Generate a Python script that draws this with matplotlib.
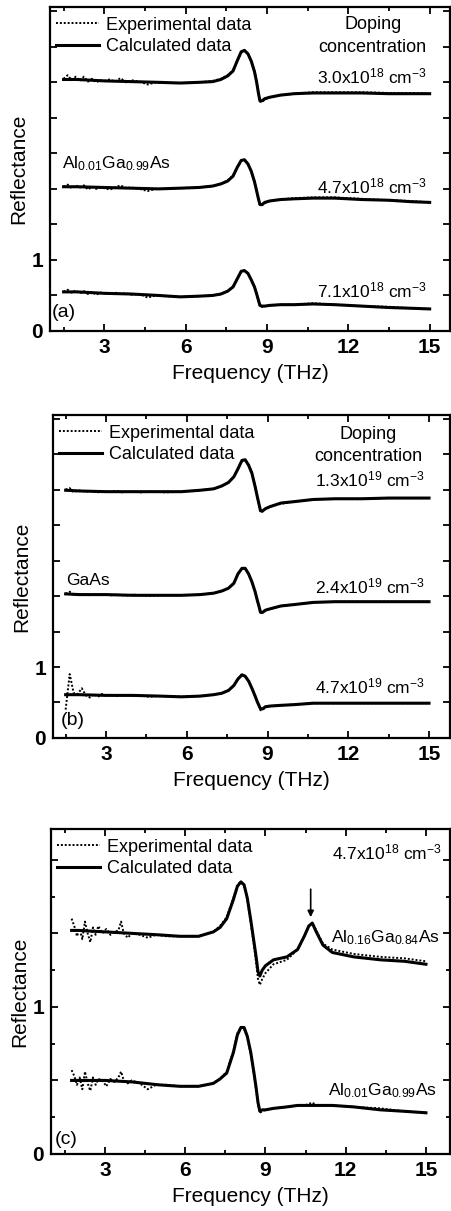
import matplotlib
matplotlib.use('Agg')
import matplotlib.pyplot as plt
from matplotlib.ticker import FixedLocator

plt.rcParams['font.family'] = ['Liberation Sans', 'DejaVu Sans']
plt.rcParams['mathtext.fontset'] = 'custom'
plt.rcParams['mathtext.rm'] = 'Liberation Sans'
plt.rcParams['mathtext.it'] = 'Liberation Sans'
plt.rcParams['mathtext.bf'] = 'Liberation Sans:bold'

# frequency grids (THz)
CALC_F = [1.5, 2.0, 3.0, 4.0, 5.0,
          5.8, 6.5, 7.0, 7.3, 7.55, 7.75, 7.9, 8.05, 8.17, 8.3, 8.42, 8.54, 8.62,
          8.68, 8.74, 8.82, 8.92, 9.1, 9.5, 10.0, 10.7, 11.5, 12.5, 13.5, 14.3, 15.0]
EXP_F = [1.5, 1.65, 1.8, 1.95, 2.1, 2.25, 2.4, 2.55, 2.7, 2.85, 3.0, 3.2, 3.4, 3.6,
         3.8, 4.0, 4.3, 4.6, 4.9, 5.2,
         5.8, 6.5, 7.0, 7.3, 7.55, 7.75, 7.9, 8.05, 8.17, 8.3, 8.42, 8.54, 8.62,
         8.68, 8.74, 8.82, 8.92, 9.1, 9.5, 10.0, 10.7, 11.5, 12.5, 13.5, 14.3, 15.0]
CALC_F_C = [1.75, 2.0, 3.0, 4.0, 5.0,
            5.8, 6.5, 7.05, 7.3, 7.55, 7.8, 7.95, 8.08, 8.2, 8.32, 8.45, 8.57, 8.65,
            8.72, 8.79, 8.88, 9.0, 9.3, 9.8, 10.2, 10.45, 10.62, 10.75, 10.9, 11.15,
            11.5, 12.3, 13.3, 14.2, 15.0]
EXP_F_C = [1.75, 1.85, 1.95, 2.05, 2.15, 2.25, 2.35, 2.45, 2.55, 2.65, 2.75, 2.9,
           3.05, 3.2, 3.35, 3.5, 3.6, 3.7, 3.85, 4.0, 4.3, 4.6, 4.9, 5.3,
           5.8, 6.5, 7.05, 7.3, 7.55, 7.8, 7.95, 8.08, 8.2, 8.32, 8.45, 8.57, 8.65,
           8.72, 8.79, 8.88, 9.0, 9.3, 9.8, 10.2, 10.45, 10.62, 10.75, 10.9, 11.15,
           11.5, 12.3, 13.3, 14.2, 15.0]

# panel (a): Al0.01Ga0.99As, curves shifted by 1.5
a_top_calc = [3.54, 3.54, 3.52, 3.51, 3.50,
              3.49, 3.50, 3.51, 3.54, 3.59, 3.66, 3.80, 3.93, 3.95, 3.90, 3.80, 3.65, 3.50,
              3.36, 3.24, 3.24, 3.27, 3.29, 3.32, 3.34, 3.35, 3.35, 3.35, 3.34, 3.34, 3.34]
a_mid_calc = [2.03, 2.03, 2.02, 2.01, 2.00,
              2.01, 2.02, 2.04, 2.07, 2.11, 2.18, 2.30, 2.40, 2.41, 2.35, 2.25, 2.10, 1.97,
              1.87, 1.78, 1.78, 1.81, 1.83, 1.85, 1.86, 1.87, 1.87, 1.85, 1.84, 1.82, 1.81]
a_bot_calc = [0.55, 0.55, 0.53, 0.52, 0.50,
              0.48, 0.49, 0.50, 0.52, 0.56, 0.62, 0.73, 0.84, 0.85, 0.81, 0.72, 0.62, 0.52,
              0.44, 0.36, 0.35, 0.35, 0.36, 0.37, 0.37, 0.38, 0.37, 0.35, 0.33, 0.32, 0.31]
a_top_exp = [3.55, 3.60, 3.53, 3.58, 3.52, 3.58, 3.51, 3.55, 3.50, 3.53, 3.52, 3.54, 3.51,
             3.56, 3.50, 3.53, 3.51, 3.47, 3.50, 3.49,
             3.49, 3.50, 3.52, 3.55, 3.60, 3.67, 3.80, 3.92, 3.95, 3.90, 3.80, 3.66, 3.51,
             3.37, 3.23, 3.22, 3.26, 3.29, 3.32, 3.34, 3.36, 3.36, 3.36, 3.35, 3.35, 3.34]
a_mid_exp = [2.03, 2.06, 2.01, 2.05, 2.02, 2.05, 1.99, 2.03, 2.00, 2.02, 2.01, 1.99, 2.02,
             2.05, 2.01, 2.02, 2.00, 1.97, 2.00, 2.00,
             2.01, 2.02, 2.04, 2.07, 2.12, 2.19, 2.30, 2.40, 2.41, 2.35, 2.25, 2.11, 1.97,
             1.87, 1.77, 1.77, 1.80, 1.83, 1.85, 1.87, 1.88, 1.88, 1.86, 1.84, 1.83, 1.81]
a_bot_exp = [0.55, 0.58, 0.54, 0.57, 0.53, 0.56, 0.52, 0.55, 0.51, 0.54, 0.53, 0.52, 0.54,
             0.52, 0.53, 0.51, 0.52, 0.47, 0.50, 0.49,
             0.48, 0.49, 0.50, 0.52, 0.56, 0.63, 0.73, 0.84, 0.85, 0.81, 0.72, 0.62, 0.52,
             0.43, 0.35, 0.34, 0.35, 0.36, 0.37, 0.37, 0.39, 0.37, 0.35, 0.34, 0.32, 0.31]
a_labels = ['3.0x10$^{18}$ cm$^{-3}$', '4.7x10$^{18}$ cm$^{-3}$', '7.1x10$^{18}$ cm$^{-3}$']

# panel (b): GaAs
b_top_calc = [3.49, 3.48, 3.47, 3.47, 3.47,
              3.47, 3.49, 3.51, 3.55, 3.60, 3.68, 3.79, 3.91, 3.92, 3.84, 3.73, 3.54, 3.40,
              3.30, 3.20, 3.20, 3.23, 3.26, 3.31, 3.33, 3.36, 3.37, 3.37, 3.38, 3.38, 3.38]
b_mid_calc = [2.03, 2.02, 2.02, 2.01, 2.01,
              2.01, 2.02, 2.04, 2.07, 2.11, 2.18, 2.31, 2.39, 2.39, 2.31, 2.20, 2.06, 1.94,
              1.86, 1.77, 1.77, 1.80, 1.82, 1.86, 1.88, 1.91, 1.92, 1.92, 1.92, 1.92, 1.92]
b_bot_calc = [0.61, 0.61, 0.60, 0.60, 0.59,
              0.58, 0.59, 0.61, 0.63, 0.67, 0.74, 0.83, 0.89, 0.87, 0.80, 0.70, 0.59, 0.51,
              0.46, 0.41, 0.41, 0.44, 0.45, 0.46, 0.47, 0.49, 0.49, 0.49, 0.49, 0.49, 0.49]
b_top_exp = [3.50, 3.52, 3.46, 3.49, 3.48, 3.47, 3.48, 3.47, 3.46, 3.48, 3.47, 3.47, 3.48,
             3.46, 3.47, 3.47, 3.46, 3.47, 3.47, 3.46,
             3.47, 3.49, 3.51, 3.55, 3.60, 3.68, 3.79, 3.90, 3.92, 3.85, 3.73, 3.55, 3.40,
             3.29, 3.18, 3.19, 3.23, 3.26, 3.30, 3.33, 3.36, 3.37, 3.37, 3.38, 3.38, 3.38]
b_mid_exp = [2.03, 2.06, 2.02, 2.03, 2.02, 2.02, 2.01, 2.02, 2.02, 2.01, 2.02, 2.01, 2.02,
             2.01, 2.01, 2.02, 2.01, 2.00, 2.01, 2.01,
             2.01, 2.02, 2.04, 2.07, 2.11, 2.18, 2.31, 2.39, 2.39, 2.31, 2.20, 2.06, 1.94,
             1.85, 1.76, 1.76, 1.80, 1.82, 1.86, 1.88, 1.91, 1.92, 1.92, 1.92, 1.92, 1.92]
b_bot_exp = [0.40, 0.90, 0.63, 0.62, 0.70, 0.60, 0.57, 0.62, 0.58, 0.62, 0.60, 0.61, 0.59,
             0.60, 0.60, 0.59, 0.60, 0.58, 0.59, 0.59,
             0.58, 0.59, 0.61, 0.63, 0.67, 0.74, 0.83, 0.90, 0.87, 0.80, 0.70, 0.59, 0.51,
             0.45, 0.39, 0.40, 0.43, 0.45, 0.46, 0.47, 0.49, 0.49, 0.49, 0.49, 0.49, 0.49]
b_labels = ['1.3x10$^{19}$ cm$^{-3}$', '2.4x10$^{19}$ cm$^{-3}$', '4.7x10$^{19}$ cm$^{-3}$']

# panel (c): 4.7e18 cm^-3, two alloys
c_top_calc = [1.52, 1.52, 1.51, 1.50, 1.49,
              1.48, 1.48, 1.51, 1.54, 1.60, 1.73, 1.82, 1.85, 1.83, 1.74, 1.59, 1.44, 1.34,
              1.24, 1.21, 1.25, 1.28, 1.32, 1.34, 1.39, 1.48, 1.55, 1.57, 1.51, 1.42,
              1.37, 1.34, 1.32, 1.31, 1.29]
c_bot_calc = [0.50, 0.50, 0.50, 0.49, 0.47,
              0.46, 0.46, 0.48, 0.51, 0.55, 0.69, 0.81, 0.86, 0.86, 0.80, 0.69, 0.55, 0.45,
              0.35, 0.29, 0.30, 0.30, 0.31, 0.32, 0.33, 0.33, 0.33, 0.33, 0.33, 0.33,
              0.33, 0.32, 0.30, 0.29, 0.28]
c_top_exp = [1.60, 1.55, 1.48, 1.53, 1.46, 1.58, 1.50, 1.44, 1.54, 1.49, 1.55, 1.50,
             1.53, 1.49, 1.51, 1.52, 1.58, 1.50, 1.47, 1.50, 1.49, 1.47, 1.49, 1.48,
             1.48, 1.48, 1.51, 1.55, 1.61, 1.74, 1.83, 1.85, 1.82, 1.73, 1.57, 1.42, 1.30,
             1.19, 1.15, 1.19, 1.23, 1.29, 1.32, 1.39, 1.48, 1.55, 1.57, 1.52, 1.43,
             1.39, 1.36, 1.34, 1.33, 1.31]
c_bot_exp = [0.57, 0.53, 0.47, 0.52, 0.44, 0.56, 0.48, 0.43, 0.52, 0.47, 0.51, 0.50,
             0.46, 0.51, 0.49, 0.52, 0.56, 0.50, 0.48, 0.50, 0.48, 0.44, 0.47, 0.47,
             0.46, 0.46, 0.48, 0.51, 0.56, 0.70, 0.82, 0.86, 0.85, 0.79, 0.68, 0.54, 0.44,
             0.34, 0.28, 0.29, 0.30, 0.31, 0.32, 0.33, 0.33, 0.34, 0.35, 0.33, 0.33,
             0.33, 0.32, 0.31, 0.29, 0.28]

DOTS = (0, (1, 1))


def style_axes(ax, xlim, ylim, yticks, ylabels, yminor=None):
    ax.set_xlim(xlim)
    ax.set_ylim(ylim)
    ax.set_xticks([3, 6, 9, 12, 15])
    ax.xaxis.set_minor_locator(FixedLocator([1.5, 4.5, 7.5, 10.5, 13.5]))
    ax.set_yticks(yticks)
    ax.set_yticklabels(ylabels)
    if yminor is not None:
        ax.yaxis.set_minor_locator(FixedLocator(yminor))
    ax.tick_params(which='both', direction='in', top=True, right=True,
                   labelsize=15, width=1.3, pad=5)
    ax.tick_params(which='major', length=5)
    ax.tick_params(which='minor', length=3)
    for t in ax.get_xticklabels() + ax.get_yticklabels():
        t.set_fontweight('bold')
    for s in ax.spines.values():
        s.set_linewidth(1.6)
    ax.set_xlabel('Frequency (THz)', fontsize=15, labelpad=5)
    ax.set_ylabel('Reflectance', fontsize=15)
    ax.yaxis.set_label_coords(-0.055, 0.5)


def draw_pair(ax, f_exp, y_exp, f_calc, y_calc):
    ln_c, = ax.plot(f_calc, y_calc, color='black', lw=2.2, label='Calculated data')
    ln_e, = ax.plot(f_exp, y_exp, color='black', lw=1.4, linestyle=DOTS,
                    label='Experimental data')
    return ln_e, ln_c


def add_legend(ax, handles):
    ax.legend(handles=handles, loc='upper left', bbox_to_anchor=(0.015, 0.97),
              frameon=False, fontsize=13, handlelength=2.4, handletextpad=0.35,
              labelspacing=0.25, borderaxespad=0, borderpad=0)


def main():
    fig = plt.figure(figsize=(4.51, 12.11), dpi=100)

    # (a)
    ax = fig.add_axes([0.1109, 0.7267, 0.8869, 0.2675])
    h = draw_pair(ax, EXP_F, a_top_exp, CALC_F, a_top_calc)
    draw_pair(ax, EXP_F, a_mid_exp, CALC_F, a_mid_calc)
    draw_pair(ax, EXP_F, a_bot_exp, CALC_F, a_bot_calc)
    style_axes(ax, (1.0, 15.75), (0, 4.56), [0, 0.5, 1, 1.5, 2, 2.5, 3, 3.5, 4, 4.5],
               ['0', '', '1', '', '', '', '', '', '', ''])
    add_legend(ax, h)
    ax.text(12.9, 4.31, 'Doping', fontsize=13, ha='center', va='center')
    ax.text(12.9, 3.99, 'concentration', fontsize=13, ha='center', va='center')
    for lab, yb in zip(a_labels, [3.49, 1.94, 0.47]):
        ax.text(14.89, yb, lab, fontsize=12.5, ha='right', va='baseline')
    ax.text(1.45, 2.29, 'Al$_{0.01}$Ga$_{0.99}$As', fontsize=12.5, ha='left', va='baseline')
    ax.text(1.08, 0.2, '(a)', fontsize=14, ha='left', va='baseline')

    # (b)
    ax = fig.add_axes([0.1175, 0.3906, 0.8803, 0.2667])
    h = draw_pair(ax, EXP_F, b_top_exp, CALC_F, b_top_calc)
    draw_pair(ax, EXP_F, b_mid_exp, CALC_F, b_mid_calc)
    draw_pair(ax, EXP_F, b_bot_exp, CALC_F, b_bot_calc)
    style_axes(ax, (1.03, 15.78), (0, 4.55), [0, 0.5, 1, 1.5, 2, 2.5, 3, 3.5, 4, 4.5],
               ['0', '', '1', '', '', '', '', '', '', ''])
    add_legend(ax, h)
    ax.text(12.73, 4.27, 'Doping', fontsize=13, ha='center', va='center')
    ax.text(12.73, 3.96, 'concentration', fontsize=13, ha='center', va='center')
    for lab, yb in zip(b_labels, [3.54, 2.04, 0.63]):
        ax.text(14.85, yb, lab, fontsize=12.5, ha='right', va='baseline')
    ax.text(1.51, 2.15, 'GaAs', fontsize=12.5, ha='left', va='baseline')
    ax.text(1.33, 0.18, '(b)', fontsize=14, ha='left', va='baseline')

    # (c)
    ax = fig.add_axes([0.1131, 0.0471, 0.8847, 0.2684])
    h = draw_pair(ax, EXP_F_C, c_top_exp, CALC_F_C, c_top_calc)
    draw_pair(ax, EXP_F_C, c_bot_exp, CALC_F_C, c_bot_calc)
    style_axes(ax, (0.98, 15.9), (0, 2.21), [0, 0.5, 1, 1.5, 2],
               ['0', '', '1', '', ''], yminor=[0.25, 0.75, 1.25, 1.75])
    add_legend(ax, h)
    ax.text(15.6, 2.0, '4.7x10$^{18}$ cm$^{-3}$', fontsize=12.5, ha='right', va='baseline')
    ax.annotate('', xy=(10.69, 1.61), xytext=(10.69, 1.80),
                arrowprops=dict(arrowstyle='-|>', color='black', lw=1.2,
                                mutation_scale=9, shrinkA=0, shrinkB=0))
    ax.text(15.52, 1.44, 'Al$_{0.16}$Ga$_{0.84}$As', fontsize=12.5, ha='right', va='baseline')
    ax.text(15.41, 0.40, 'Al$_{0.01}$Ga$_{0.99}$As', fontsize=12.5, ha='right', va='baseline')
    ax.text(1.13, 0.07, '(c)', fontsize=14, ha='left', va='baseline')

    fig.savefig('out.png', dpi=100)


if __name__ == "__main__":
    main()
